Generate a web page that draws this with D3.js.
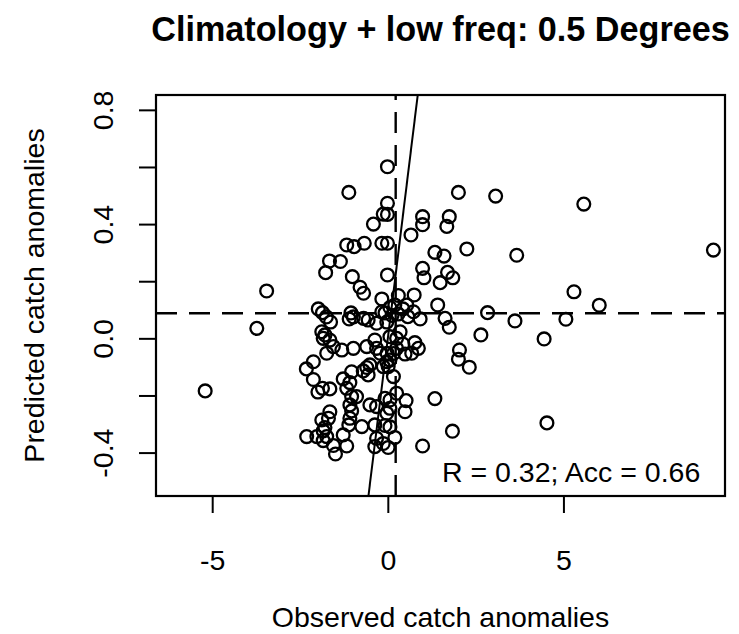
<!DOCTYPE html>
<html>
<head>
<meta charset="utf-8">
<script src="https://cdn.jsdelivr.net/npm/d3@7"></script>
<style>
  body { margin: 0; background: #fff; }
  text { font-family: "Liberation Sans", Arial, Helvetica, sans-serif; fill: #000; }
</style>
</head>
<body>
<script>
// observed catch anomalies (x) and predicted catch anomalies (y)
var observed = [
  2.01, 3.07, 5.58, 0.99, 0.99, 1.75, 1.68, 0.66, 2.25, 1.34, 1.60, 3.67, 9.27, 0.99, 1.03, 1.70,
  1.85, 1.49, 0.75, 5.30, 1.42, 6.02, 2.84, 0.92, 1.63, 1.75, 3.62, 5.07, 2.65, 4.45, 0.77, 0.87,
  0.49, 2.04, 2.01, 2.32, 1.34, 0.52, 0.49, 1.84, 4.53, 0.99,
  -0.01, -1.11, -0.01, -0.13, -0.01, -0.41, -1.17, -0.96, -0.67, -0.17, -0.01, -1.66, -1.35, -1.77,
  -1.01, -0.79, -0.69, -0.01, -3.45, 0.30, -0.17,
  -1.98, -1.86, -1.75, -1.63, -1.88, -1.79, -1.84, -1.65, -1.05, -0.98, -1.10, -0.69, -0.56, -0.32,
  -0.17, 0.06, 0.20, 0.54, 0.73, -0.08, 0.12, 0.29, 0.43, 0.57, -0.03, -1.55, -1.31, -0.98, -0.60,
  -0.37, -0.32, 0.06, 0.25, 0.35, 0.43, 0.25, -0.22, -0.02, 0.16, -1.74, -2.12, -2.32, -5.20, -3.73,
  -2.12, -1.99, -1.86, -1.65, -1.27, -1.08, -1.03, -1.17, -0.70, -0.60, -0.51, -0.56, -1.03, -0.89,
  -1.08, -1.03, -1.08, -1.11, -0.74, -1.65, -1.69, -1.88, -1.79, -1.84, -2.31, -2.02, -1.74, -1.84,
  -1.55, -1.49, -1.27, -1.17, -0.51, -0.32, -0.08, 0.06, 0.25, 0.06, -0.03, -0.37, -0.08, 0.06,
  -0.32, -0.37, -0.13, 0.01, 0.20, 0.06, 0.01, 0.16, 0.68, -0.13, -0.03
];
var predicted = [
  0.511, 0.498, 0.470, 0.426, 0.398, 0.426, 0.392, 0.362, 0.313, 0.301, 0.288, 0.291, 0.309, 0.245, 0.212, 0.231,
  0.212, 0.195, 0.152, 0.163, 0.117, 0.116, 0.090, 0.068, 0.070, 0.039, 0.061, 0.067, 0.012, -0.002, -0.015, -0.035,
  -0.055, -0.041, -0.073, -0.101, -0.211, -0.218, -0.257, -0.325, -0.296, -0.377,
  0.601, 0.511, 0.473, 0.435, 0.434, 0.400, 0.327, 0.321, 0.333, 0.333, 0.333, 0.271, 0.269, 0.230,
  0.216, 0.179, 0.158, 0.222, 0.166, 0.150, 0.138,
  0.103, 0.090, 0.075, 0.057, 0.023, 0.012, 0.000, -0.006, 0.089, 0.075, 0.068, 0.070, 0.064, 0.053,
  0.093, 0.108, 0.117, 0.117, 0.093, 0.089, 0.080, 0.085, 0.103, 0.076, 0.057, -0.029, -0.041, -0.035, -0.029,
  -0.006, -0.035, 0.006, 0.000, 0.023, -0.020, -0.035, -0.052, -0.052, -0.053, -0.052, -0.082, -0.107, -0.184, 0.035,
  -0.144, -0.188, -0.175, -0.177, -0.142, -0.155, -0.117, -0.175, -0.114, -0.102, -0.093, -0.128, -0.204, -0.204,
  -0.233, -0.254, -0.280, -0.303, -0.309, -0.257, -0.280, -0.286, -0.312, -0.324, -0.344, -0.344, -0.344, -0.358,
  -0.375, -0.405, -0.338, -0.377, -0.233, -0.239, -0.210, -0.216, -0.192, -0.245, -0.262, -0.303, -0.305, -0.310,
  -0.350, -0.379, -0.368, -0.382, -0.347, -0.076, -0.099, -0.134, -0.052, -0.099, -0.082
];

var xTicks = [-5, 0, 5];
var xTickLabels = ["-5", "0", "5"];
var yTicks = [-0.4, -0.2, 0, 0.2, 0.4, 0.6, 0.8];
var yTickLabels = ["-0.4", "", "0.0", "", "0.4", "", "0.8"];

var obsMean = 0.224;
var predMean = 0.088;
var rText = "R = 0.32; Acc = 0.66";

var w = 739;
var h = 634;
var boxL = 156, boxR = 725, boxT = 95, boxB = 496;

var svg = d3.select("body")
            .append("svg")
            .attr("width", w)
            .attr("height", h);

var x = d3.scaleLinear().domain([-6.6, 9.6]).range([boxL, boxR]);
var y = d3.scaleLinear().domain([-0.552, 0.852]).range([boxB, boxT]);

svg.append("defs").append("clipPath")
   .attr("id", "plotclip")
   .append("rect")
   .attr("x", boxL).attr("y", boxT)
   .attr("width", boxR - boxL).attr("height", boxB - boxT);

var plot = svg.append("g").attr("clip-path", "url(#plotclip)");

// points
plot.selectAll("circle")
    .data(observed)
    .enter()
    .append("circle")
    .attr("cx", function(d){ return x(d); })
    .attr("cy", function(d, i){ return y(predicted[i]); })
    .attr("r", 6.4)
    .attr("fill", "none")
    .attr("stroke", "#000")
    .attr("stroke-width", 2.3);

// 1:1 line
plot.append("line")
    .attr("x1", x(-0.552)).attr("y1", y(-0.552))
    .attr("x2", x(0.852)).attr("y2", y(0.852))
    .attr("stroke", "#000")
    .attr("stroke-width", 2);

// dashed mean lines
plot.append("line")
    .attr("x1", boxL).attr("x2", boxR)
    .attr("y1", y(predMean)).attr("y2", y(predMean))
    .attr("stroke", "#000")
    .attr("stroke-width", 2.4)
    .attr("stroke-dasharray", "21,12");

plot.append("line")
    .attr("x1", x(obsMean)).attr("x2", x(obsMean))
    .attr("y1", boxB).attr("y2", boxT)
    .attr("stroke", "#000")
    .attr("stroke-width", 2.4)
    .attr("stroke-dasharray", "21,12");

// box
svg.append("rect")
   .attr("x", boxL).attr("y", boxT)
   .attr("width", boxR - boxL).attr("height", boxB - boxT)
   .attr("fill", "none")
   .attr("stroke", "#000")
   .attr("stroke-width", 2.2);

// axes
var xAxis = d3.axisBottom(x)
              .tickValues(xTicks)
              .tickSize(17)
              .tickFormat(function(d, i){ return xTickLabels[i]; });

var gx = svg.append("g")
            .attr("transform", "translate(0," + boxB + ")")
            .call(xAxis);
gx.select(".domain").remove();
gx.selectAll("line").attr("stroke", "#000").attr("stroke-width", 2);
gx.selectAll("text")
  .attr("y", 74)
  .attr("dy", null)
  .attr("font-size", 28.5)
  .attr("font-family", null);

var yAxis = d3.axisLeft(y)
              .tickValues(yTicks)
              .tickSize(17)
              .tickFormat(function(d, i){ return yTickLabels[i]; });

var gy = svg.append("g")
            .attr("transform", "translate(" + boxL + ",0)")
            .call(yAxis);
gy.select(".domain").remove();
gy.selectAll("line").attr("stroke", "#000").attr("stroke-width", 2);
gy.selectAll("text")
  .attr("x", 0)
  .attr("y", -43)
  .attr("dy", null)
  .attr("transform", "rotate(-90)")
  .attr("text-anchor", "middle")
  .attr("font-size", 28.5)
  .attr("font-family", null);

// labels
svg.append("text")
   .attr("x", (boxL + boxR) / 2)
   .attr("y", 41)
   .attr("text-anchor", "middle")
   .attr("font-size", 34.2)
   .attr("font-weight", "bold")
   .text("Climatology + low freq: 0.5 Degrees");

svg.append("text")
   .attr("x", (boxL + boxR) / 2)
   .attr("y", 627)
   .attr("text-anchor", "middle")
   .attr("font-size", 28.5)
   .text("Observed catch anomalies");

svg.append("text")
   .attr("transform", "translate(44," + ((boxT + boxB) / 2) + ") rotate(-90)")
   .attr("text-anchor", "middle")
   .attr("font-size", 28.5)
   .text("Predicted catch anomalies");

svg.append("text")
   .attr("x", 442)
   .attr("y", 482)
   .attr("font-size", 28.5)
   .text(rText);
</script>
</body>
</html>
